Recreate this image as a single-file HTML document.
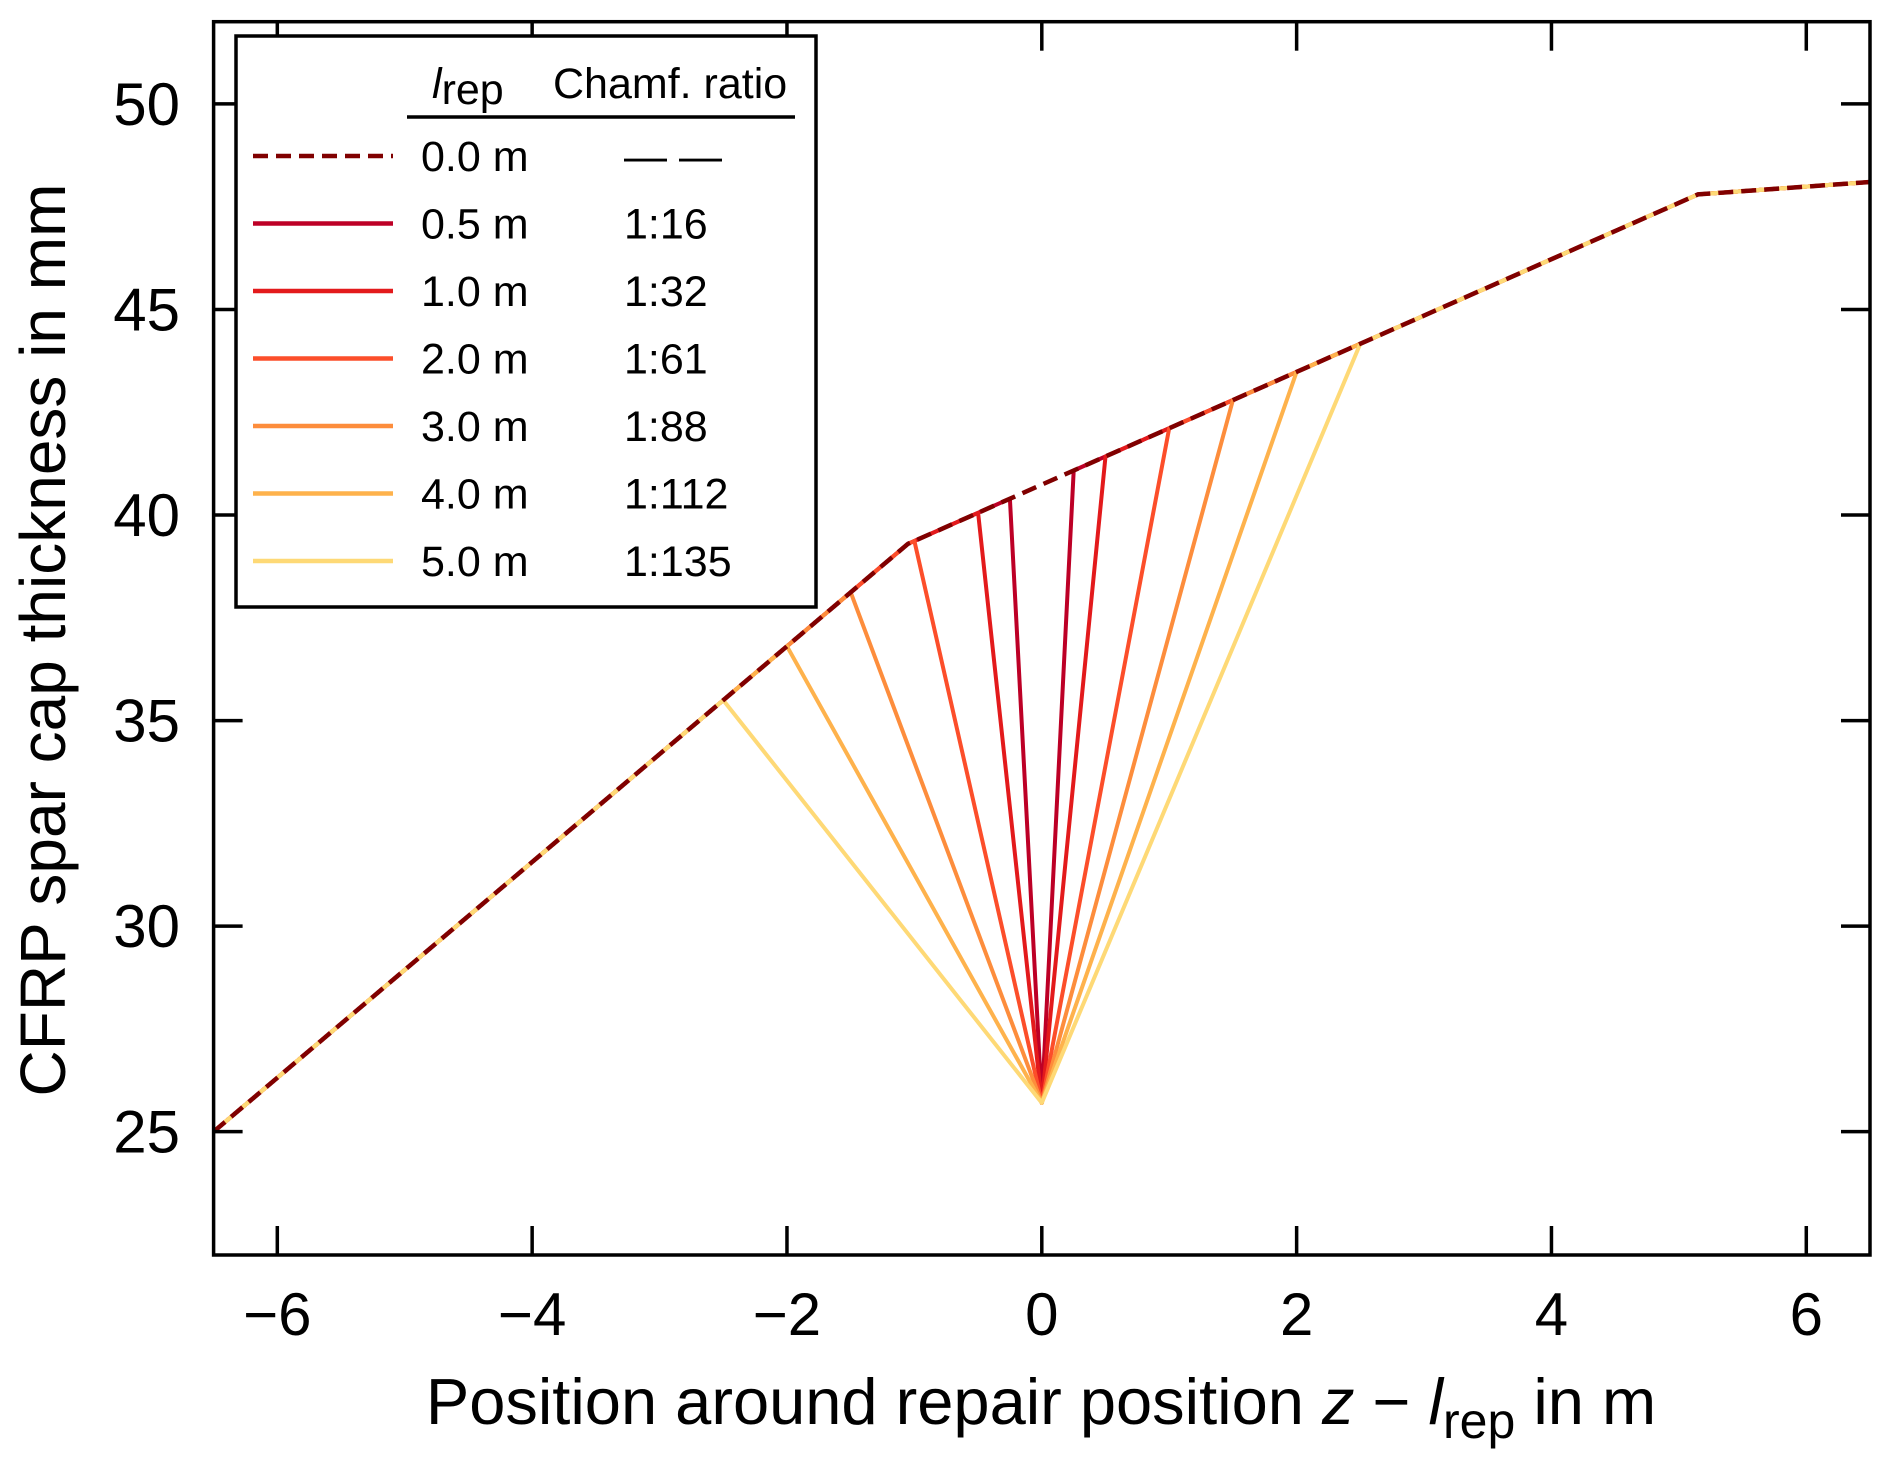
<!DOCTYPE html>
<html><head><meta charset="utf-8">
<style>
html,body{margin:0;padding:0;background:#fff;}
svg{display:block;font-family:"Liberation Sans","DejaVu Sans",sans-serif;}
</style></head>
<body>
<svg id="chart" width="1892" height="1461" viewBox="0 0 1892 1461">
<g id="lines"></g>
<g id="axes"></g>
</svg>
<script>
const repairLengths = [0.5, 1.0, 2.0, 3.0, 4.0, 5.0];
const chamferRatios = ["1:16", "1:32", "1:61", "1:88", "1:112", "1:135"];
const seriesColors = ["#bd0026", "#e31a1c", "#fc4e2a", "#fd8d3c", "#feb24c", "#fed976"];
const baselineX = [-6.5, -1.05, 5.15, 6.5];
const baselineY = [25.0, 39.3, 47.8, 48.1];
const repairBottomY = 25.7;
const xTicks = [-6, -4, -2, 0, 2, 4, 6];
const yTicks = [25, 30, 35, 40, 45, 50];

const L = 213.6, R = 1870, T = 21.7, B = 1255;
const xMin = -6.5, xMax = 6.5, yMin = 22, yMax = 52;
const sx = v => L + (v - xMin) / (xMax - xMin) * (R - L);
const sy = v => B - (v - yMin) / (yMax - yMin) * (B - T);
const NS = "http://www.w3.org/2000/svg";
function mk(tag, attrs, parent) {
  const e = document.createElementNS(NS, tag);
  for (const k in attrs) e.setAttribute(k, attrs[k]);
  parent.appendChild(e);
  return e;
}
function base(x) {
  for (let i = 0; i < baselineX.length - 1; i++) {
    if (x <= baselineX[i + 1] || i === baselineX.length - 2) {
      const t = (x - baselineX[i]) / (baselineX[i + 1] - baselineX[i]);
      return baselineY[i] + t * (baselineY[i + 1] - baselineY[i]);
    }
  }
}
function profile(l) {
  const h = l / 2, pts = [];
  for (let i = 0; i < baselineX.length; i++) if (baselineX[i] < -h) pts.push([baselineX[i], baselineY[i]]);
  pts.push([-h, base(-h)]);
  pts.push([0, repairBottomY]);
  pts.push([h, base(h)]);
  for (let i = 0; i < baselineX.length; i++) if (baselineX[i] > h) pts.push([baselineX[i], baselineY[i]]);
  return pts.map(p => sx(p[0]).toFixed(1) + "," + sy(p[1]).toFixed(1)).join(" ");
}
const lines = document.getElementById("lines");
repairLengths.forEach((l, i) => {
  const p = mk("polyline", {points: profile(l), fill: "none", stroke: seriesColors[i], "stroke-width": 4, "stroke-linejoin": "round"}, lines);
  
  
});
const bl = mk("polyline", {points: baselineX.map((x, i) => sx(x).toFixed(1) + "," + sy(baselineY[i]).toFixed(1)).join(" "), fill: "none", stroke: "#800000", "stroke-width": 4.5, "stroke-dasharray": "15,8"}, lines);



const ax = document.getElementById("axes");
const frame = mk("rect", {x: L, y: T, width: R - L, height: B - T, fill: "none", stroke: "#000", "stroke-width": 3.5}, ax);


const tl = 29;
xTicks.forEach(v => {
  const x = sx(v);
  mk("line", {x1: x, y1: B, x2: x, y2: B - tl, stroke: "#000", "stroke-width": 3.5}, ax);
  mk("line", {x1: x, y1: T, x2: x, y2: T + tl, stroke: "#000", "stroke-width": 3.5}, ax);
  const t = mk("text", {x: x, y: 1335, "font-size": 60, "text-anchor": "middle", fill: "#000"}, ax);
  t.textContent = v < 0 ? "\u2212" + Math.abs(v) : String(v);
  
  
});
yTicks.forEach(v => {
  const y = sy(v);
  mk("line", {x1: L, y1: y, x2: L + tl, y2: y, stroke: "#000", "stroke-width": 3.5}, ax);
  mk("line", {x1: R, y1: y, x2: R - tl, y2: y, stroke: "#000", "stroke-width": 3.5}, ax);
  const t = mk("text", {x: 180, y: y + 21, "font-size": 60, "text-anchor": "end", fill: "#000"}, ax);
  t.textContent = String(v);
  
  
});
const xt = mk("text", {x: 1041, y: 1424, "font-size": 65, "text-anchor": "middle", fill: "#000"}, ax);
xt.innerHTML = 'Position around repair position <tspan font-style="italic">z</tspan> \u2212 <tspan font-style="italic">l</tspan><tspan font-size="50" dy="14">rep</tspan><tspan dy="-14"> in m</tspan>';


const yt = mk("text", {x: 0, y: 0, "font-size": 64, "text-anchor": "middle", fill: "#000", transform: "translate(65,640) rotate(-90)"}, ax);
yt.textContent = "CFRP spar cap thickness in mm";



// legend
const lg = mk("g", {}, ax);


mk("rect", {x: 236, y: 36, width: 580, height: 571, fill: "#fff", stroke: "#000", "stroke-width": 3.5}, lg);
const h1 = mk("text", {x: 432, y: 98, "font-size": 43, fill: "#000"}, lg);
h1.innerHTML = '<tspan font-style="italic">l</tspan><tspan dy="6">rep</tspan>';


const h2 = mk("text", {x: 553, y: 98, "font-size": 43, fill: "#000"}, lg);
h2.textContent = "Chamf. ratio";


mk("line", {x1: 407, y1: 117, x2: 795, y2: 117, stroke: "#000", "stroke-width": 3.5}, lg);
const rows = [{l: "0.0 m", r: "\u2014 \u2014", c: "#800000", d: true}].concat(repairLengths.map((l, i) => ({l: l.toFixed(1) + " m", r: chamferRatios[i], c: seriesColors[i], d: false})));
rows.forEach((row, i) => {
  const y = 156 + i * 67.5;
  const e = mk("g", {}, lg);
  
  
  const a = {x1: 253, y1: y, x2: 393, y2: y, stroke: row.c, "stroke-width": 4.5};
  if (row.d) a["stroke-dasharray"] = "15,8";
  mk("line", a, e);
  const t1 = mk("text", {x: 421, y: y + 15, "font-size": 43, fill: "#000"}, e);
  t1.textContent = row.l;
  const t2 = mk("text", {x: 624, y: y + 15, "font-size": 43, fill: "#000"}, e);
  t2.textContent = row.r;
});
</script>
</body></html>
